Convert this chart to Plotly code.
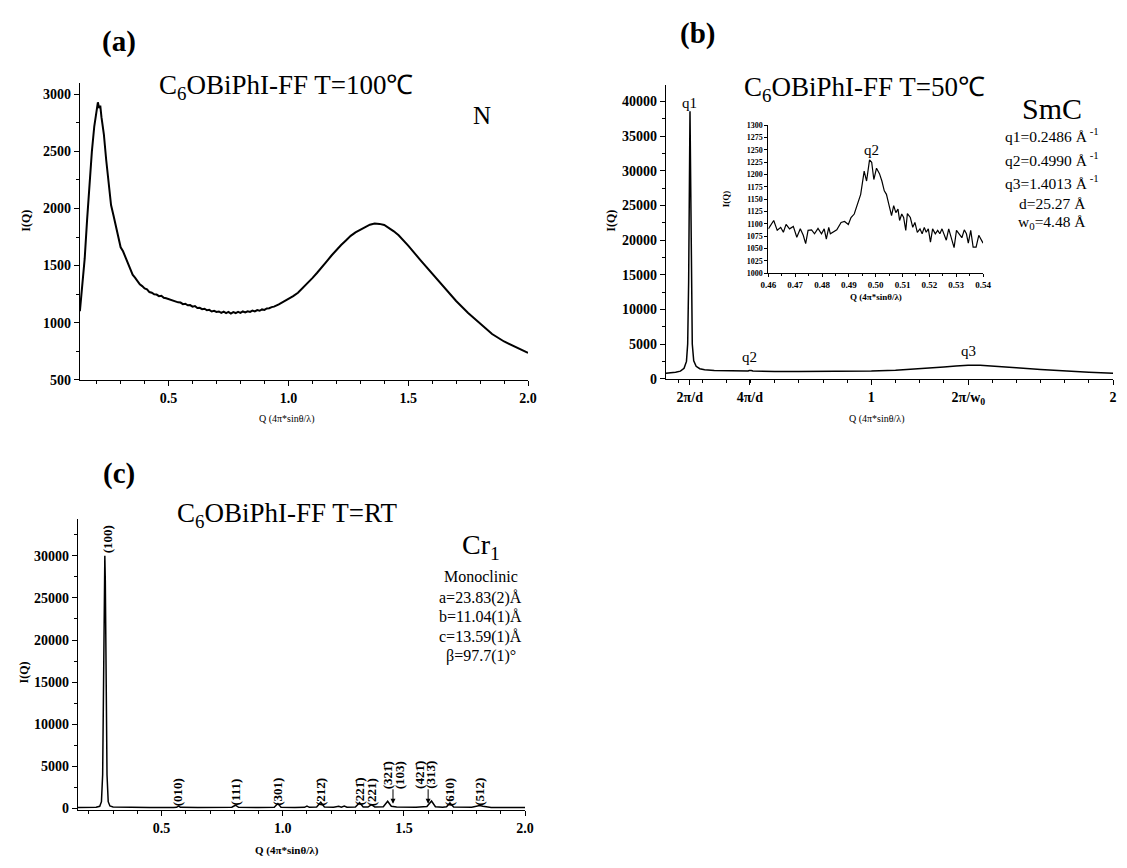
import plotly.graph_objects as go

W, H = 1127, 868
SERIF = "Liberation Serif"

# ---------------- data ----------------
# (a) T=100C, nematic
a_q = [0.13, 0.14, 0.15, 0.16, 0.17, 0.18, 0.19, 0.20, 0.205, 0.21, 0.215, 0.22, 0.23, 0.24,
       0.25, 0.26, 0.27, 0.28, 0.29, 0.30, 0.31, 0.32, 0.33, 0.34, 0.35, 0.36, 0.37, 0.38,
       0.39, 0.40, 0.41, 0.42, 0.43, 0.44, 0.45, 0.46, 0.47, 0.48, 0.49, 0.50, 0.51, 0.52,
       0.53, 0.54, 0.55, 0.56, 0.57, 0.58, 0.59, 0.60, 0.61, 0.62, 0.63, 0.64, 0.65, 0.66,
       0.67, 0.68, 0.69, 0.70, 0.71, 0.72, 0.73, 0.74, 0.75, 0.76, 0.77, 0.78, 0.79, 0.80,
       0.81, 0.82, 0.83, 0.84, 0.85, 0.86, 0.87, 0.88, 0.89, 0.90, 0.91, 0.92, 0.93, 0.94,
       0.96, 0.98, 1.00, 1.02, 1.04, 1.06, 1.08, 1.10, 1.12, 1.14, 1.16, 1.18, 1.20,
       1.22, 1.24, 1.26, 1.28, 1.30, 1.32, 1.34, 1.36, 1.38, 1.40, 1.42, 1.44, 1.46, 1.48,
       1.50, 1.55, 1.60, 1.65, 1.70, 1.75, 1.80, 1.85, 1.90, 1.95, 2.00]
a_i = [1100, 1300, 1560, 1900, 2250, 2500, 2720, 2870, 2930, 2880, 2900, 2800, 2650, 2420,
       2200, 2030, 1940, 1850, 1760, 1660, 1625, 1570, 1520, 1470, 1420, 1395, 1365, 1335,
       1320, 1300, 1292, 1268, 1262, 1248, 1246, 1232, 1236, 1218, 1214, 1206, 1196, 1194,
       1184, 1178, 1176, 1162, 1166, 1152, 1154, 1140, 1146, 1128, 1130, 1118, 1122, 1108,
       1112, 1098, 1104, 1094, 1098, 1086, 1096, 1084, 1094, 1080, 1092, 1084, 1094, 1086,
       1098, 1090, 1100, 1094, 1106, 1098, 1110, 1104, 1116, 1112, 1124, 1126, 1136, 1140,
       1160, 1182, 1205, 1232, 1262, 1302, 1345, 1390, 1437, 1483, 1537, 1588, 1637,
       1680, 1720, 1760, 1790, 1815, 1840, 1858, 1868, 1865, 1855, 1830, 1800, 1765, 1720,
       1675, 1550, 1430, 1310, 1190, 1085, 990, 900, 835, 785, 735]

# (b) T=50C, SmC
b_q = [0.15, 0.17, 0.19, 0.21, 0.225, 0.235, 0.240, 0.244, 0.247, 0.2496, 0.252, 0.255,
       0.259, 0.265, 0.275, 0.29, 0.31, 0.35, 0.40, 0.45, 0.48, 0.49, 0.495, 0.4985, 0.503,
       0.51, 0.53, 0.60, 0.70, 0.80, 0.90, 1.00, 1.10, 1.20, 1.30, 1.35, 1.40, 1.45, 1.50,
       1.60, 1.70, 1.80, 1.90, 2.00]
b_i = [800, 850, 950, 1100, 1500, 2500, 5000, 14000, 30000, 38600, 30000, 14000,
       5000, 2600, 1800, 1450, 1300, 1200, 1140, 1100, 1090, 1110, 1180, 1230, 1180,
       1110, 1080, 1060, 1050, 1060, 1080, 1120, 1230, 1420, 1700, 1850, 1950, 1930, 1850,
       1600, 1350, 1120, 950, 780]
b_tick_vals = [0.2486, 0.4972, 1.0, 1.4013, 2.0]
b_tick_text = ["2π/d", "4π/d", "1", "2π/w<sub>0</sub>", "2"]

# (b) inset, around q2
inset_q = [0.4600, 0.4620, 0.4633, 0.4646, 0.4656, 0.4666, 0.4679, 0.4693, 0.4706, 0.4719,
           0.4730, 0.4739, 0.4748, 0.4761, 0.4772, 0.4785, 0.4798, 0.4808, 0.4816, 0.4825,
           0.4831, 0.4842, 0.4855, 0.4871, 0.4884, 0.4898, 0.4908, 0.4920, 0.4931, 0.4944,
           0.4957, 0.4966, 0.4977, 0.4985, 0.4993, 0.5003, 0.5014, 0.5023, 0.5032, 0.5040,
           0.5050, 0.5059, 0.5067, 0.5075, 0.5083, 0.5089, 0.5097, 0.5104, 0.5112, 0.5118,
           0.5129, 0.5138, 0.5146, 0.5155, 0.5165, 0.5173, 0.5181, 0.5188, 0.5196, 0.5204,
           0.5212, 0.5222, 0.5231, 0.5239, 0.5247, 0.5255, 0.5263, 0.5272, 0.5281, 0.5292,
           0.5301, 0.5310, 0.5321, 0.5330, 0.5338, 0.5345, 0.5354, 0.5363, 0.5374, 0.5384,
           0.5400]
inset_i = [1090, 1107, 1087, 1093, 1083, 1099, 1090, 1095, 1073, 1090,
           1077, 1060, 1087, 1088, 1080, 1091, 1080, 1090, 1069, 1093,
           1080, 1083, 1088, 1103, 1105, 1099, 1113, 1120, 1140, 1160,
           1207, 1187, 1230, 1225, 1190, 1213, 1202, 1187, 1167, 1160,
           1137, 1117, 1137, 1123, 1130, 1107, 1120, 1113, 1087, 1121,
           1113, 1093, 1103, 1083, 1090, 1080, 1093, 1083, 1090, 1063,
           1090, 1080, 1087, 1080, 1090, 1077, 1067, 1090, 1073, 1052,
           1087, 1080, 1072, 1088, 1080, 1061, 1087, 1053, 1053, 1077,
           1061]

# (c) T=RT, crystal
c_q = [0.155, 0.20, 0.23, 0.245, 0.252, 0.257, 0.261, 0.264, 0.266, 0.268, 0.271, 0.275,
       0.280, 0.287, 0.30, 0.35, 0.45, 0.55, 0.562, 0.570, 0.578, 0.65, 0.75, 0.790, 0.805,
       0.818, 0.90, 0.965, 0.980, 0.993, 1.05, 1.09, 1.100, 1.110, 1.140, 1.157, 1.172,
       1.21, 1.231, 1.242, 1.254, 1.265, 1.300, 1.317, 1.332, 1.352, 1.366, 1.380, 1.415,
       1.433, 1.448, 1.455, 1.47, 1.55, 1.578, 1.585, 1.595, 1.614, 1.630, 1.660, 1.676,
       1.690, 1.705, 1.78, 1.800, 1.813, 1.826, 1.86, 1.95, 2.0]
c_i = [120, 130, 150, 250, 800, 4000, 15000, 27000, 30000, 27000, 15000, 4000,
       800, 300, 180, 140, 120, 110, 130, 270, 130, 110, 110, 140, 380,
       140, 110, 150, 580, 150, 120, 130, 270, 130, 160, 730, 170,
       140, 260, 150, 280, 150, 170, 690, 170, 170, 460, 160, 200,
       850, 260, 230, 170, 150, 200, 270, 220, 880, 200, 150, 200,
       650, 170, 140, 260, 350, 250, 120, 110, 110]
c_labels = ["(100)", "(010)", "(111)", "(301)", "(212\u0304)", "(221\u0304)", "(221)",
            "(321\u0304)", "(103)", "(421\u0304)", "(313\u0304)", "(610)", "(512)"]
c_label_q = [0.278, 0.569, 0.809, 0.980, 1.158, 1.317, 1.370, 1.431, 1.480, 1.561, 1.610,
             1.691, 1.813]
c_label_high = [False, False, False, False, False, False, False, True, True, True, True,
                False, False]
c_arrow_q = [1.455, 1.600]


# ---------------- helpers ----------------
def fx(p):
    return p / W


def fy(p):
    return 1 - p / H


def axis(domain, anchor, rng, size=14, **kw):
    d = dict(domain=domain, anchor=anchor, range=rng, showline=True, linecolor="black",
             linewidth=1.3, ticks="outside", tickcolor="black", tickwidth=1.2, ticklen=5,
             showgrid=False, zeroline=False, mirror=False, separatethousands=False,
             tickfont=dict(family=SERIF, size=size, color="black", weight="bold"))
    d.update(kw)
    return d


def minor(dt, ln=3):
    return dict(ticks="outside", ticklen=ln, tickcolor="black", tickwidth=1, dtick=dt, tick0=0,
                showgrid=False)


ann = []


def txt(x, y, text, size, bold=False, angle=0, xa="center", ya="middle"):
    ann.append(dict(x=fx(x), y=fy(y), xref="paper", yref="paper", text=text, showarrow=False,
                    textangle=angle, xanchor=xa, yanchor=ya,
                    font=dict(family=SERIF, size=size, color="black",
                              weight="bold" if bold else "normal")))


fig = go.Figure()
line = dict(color="black", width=1.5)
fig.add_trace(go.Scatter(x=a_q, y=a_i, xaxis="x", yaxis="y", mode="lines",
                         line=dict(color="black", width=2), showlegend=False, hoverinfo="skip"))
fig.add_trace(go.Scatter(x=b_q, y=b_i, xaxis="x2", yaxis="y2", mode="lines",
                         line=line, showlegend=False, hoverinfo="skip"))
fig.add_trace(go.Scatter(x=inset_q, y=inset_i, xaxis="x3", yaxis="y3", mode="lines",
                         line=dict(color="black", width=1.2), showlegend=False, hoverinfo="skip"))
fig.add_trace(go.Scatter(x=c_q, y=c_i, xaxis="x4", yaxis="y4", mode="lines",
                         line=line, showlegend=False, hoverinfo="skip"))

fig.update_layout(
    width=W, height=H, margin=dict(l=0, r=0, t=0, b=0),
    paper_bgcolor="white", plot_bgcolor="rgba(0,0,0,0)",
    xaxis=axis([fx(73), fx(528)], "y", [0.13, 2.0], tick0=0, dtick=0.5, tickformat=".1f",
               minor=minor(0.1)),
    yaxis=axis([fy(381), fy(80)], "x", [500, 3100], dtick=500, tickformat="d",
               minor=minor(250)),
    xaxis2=axis([fx(668), fx(1122)], "y2", [0.15, 2.0], tickmode="array",
                tickvals=b_tick_vals, ticktext=b_tick_text, minor=minor(0.1)),
    yaxis2=axis([fy(380), fy(82)], "x2", [0, 42400], dtick=5000, tickformat="d",
                minor=minor(2500)),
    xaxis3=axis([fx(772), fx(990)], "y3", [0.46, 0.54], size=9, dtick=0.01, tick0=0,
                tickformat=".2f", ticklen=3, linewidth=1, minor=minor(0.005, 2)),
    yaxis3=axis([fy(273), fy(123)], "x3", [1000, 1300], size=8, dtick=25, tickformat="d",
                ticklen=3, linewidth=1),
    xaxis4=axis([fx(71), fx(525)], "y4", [0.155, 2.0], tick0=0, dtick=0.5, tickformat=".1f",
                minor=minor(0.1)),
    yaxis4=axis([fy(817), fy(522)], "x4", [-150, 34400], dtick=5000, tickformat="d",
                minor=minor(2500)),
)

# panel letters
txt(113, 38, "(a)", 29, bold=True)
txt(700, 30, "(b)", 29, bold=True)
txt(113, 476, "(c)", 29, bold=True)

# titles
txt(283, 84, "C<sub>6</sub>OBiPhI-FF T=100℃", 27)
txt(870, 86, "C<sub>6</sub>OBiPhI-FF T=50℃", 27)
txt(283, 518, "C<sub>6</sub>OBiPhI-FF T=RT", 27)

# axis titles
txt(18, 220, "I(Q)", 12, bold=True, angle=-90)
txt(612, 220, "I(Q)", 12, bold=True, angle=-90)
txt(16, 678, "I(Q)", 12, bold=True, angle=-90)
txt(729, 198, "I(Q)", 9, bold=True, angle=-90)
txt(283, 421, "Q (4π*sinθ/λ)", 10)
txt(882, 421, "Q (4π*sinθ/λ)", 10)
txt(881, 297, "Q (4π*sinθ/λ)", 9, bold=True)
txt(283, 858, "Q (4π*sinθ/λ)", 11, bold=True)

# (a) phase
txt(481, 113, "N", 25)

# (b) phase block
txt(1060, 106, "SmC", 30)
for yy, t in zip([133, 157, 180, 202, 222],
                 ["q1=0.2486 Å<sup> -1</sup>", "q2=0.4990 Å<sup> -1</sup>",
                  "q3=1.4013 Å<sup> -1</sup>", "d=25.27 Å", "w<sub>0</sub>=4.48 Å"]):
    txt(1060, yy, t, 15.5)

# (b) peak names
for q, yy, name in zip([b_tick_vals[0], b_tick_vals[1], b_tick_vals[3]], [90, 358, 352],
                       ["q1", "q2", "q3"]):
    ann.append(dict(x=q, y=fy(yy), xref="x2", yref="paper", text=name, showarrow=False,
                    font=dict(family=SERIF, size=15, color="black")))
ann.append(dict(x=0.4985, y=fy(138), xref="x3", yref="paper", text="q2", showarrow=False,
                font=dict(family=SERIF, size=15, color="black")))

# (c) phase block
txt(480, 550, "Cr<sub>1</sub>", 28)
for yy, t in zip([581, 602, 622, 642, 661],
                 ["Monoclinic", "a=23.83(2)Å", "b=11.04(1)Å", "c=13.59(1)Å", "β=97.7(1)°"]):
    txt(480, yy, t, 16)

# (c) reflection labels
for lab, q, hi in zip(c_labels, c_label_q, c_label_high):
    if lab == "(100)":
        yc = 543
    else:
        yc = 782 if hi else 799
    ann.append(dict(x=q, y=fy(yc), xref="x4", yref="paper", text=lab, showarrow=False,
                    textangle=-90, xanchor="center", yanchor="middle",
                    font=dict(family=SERIF, size=13, color="black", weight="bold")))
for q in c_arrow_q:
    ann.append(dict(x=q, y=fy(811), xref="x4", yref="paper", text="", showarrow=True,
                    ax=0, ay=-16, arrowhead=2, arrowsize=1, arrowwidth=1, arrowcolor="black"))

fig.update_layout(annotations=ann)
fig.write_html("out.html", config={"displayModeBar": False},
               post_script="document.body.style.margin='0';")
